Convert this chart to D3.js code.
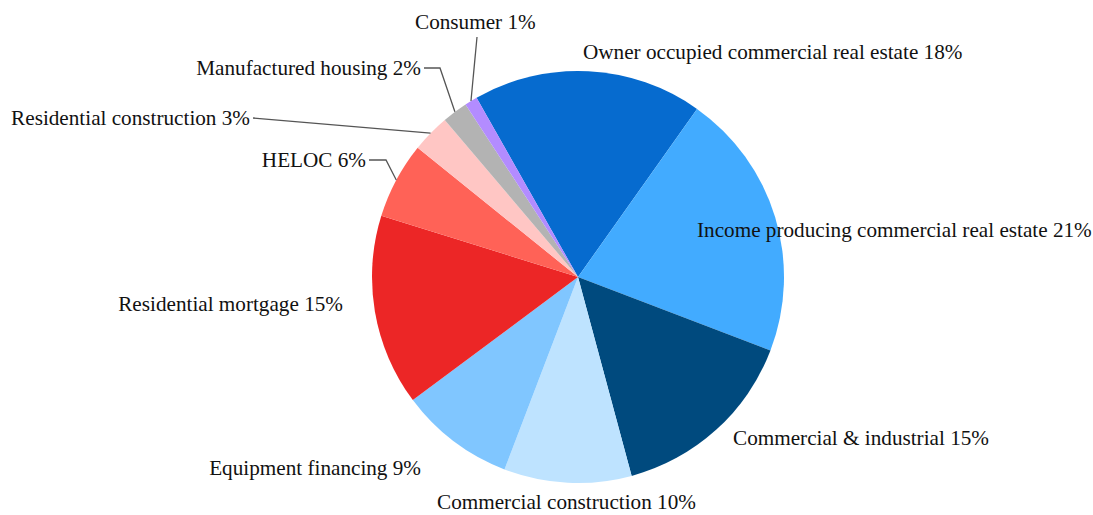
<!DOCTYPE html>
<html>
<head>
<meta charset="utf-8">
<script src="https://d3js.org/d3.v7.min.js"></script>
<style>
  body { margin: 0; background: #fff; }
  text { font-family: "Liberation Serif", "Times New Roman", serif; font-size: 21.2px; fill: #111; }
</style>
</head>
<body>
<script>

// loan portfolio shares, clockwise from "Owner occupied"
var categories = ["Owner occupied commercial real estate", "Income producing commercial real estate",
    "Commercial & industrial", "Commercial construction", "Equipment financing",
    "Residential mortgage", "HELOC", "Residential construction", "Manufactured housing", "Consumer"];
var shares = [18, 21, 15, 10, 9, 15, 6, 3, 2, 1];
var colors = ["#066bcf", "#42abff", "#004a7e", "#bee3ff", "#80c6ff",
    "#ec2626", "#ff6257", "#ffc6c4", "#b3b3b3", "#b38cff"];

var width = 1093, height = 515;
var cx = 578, cy = 277, radius = 206;
var startAngle = -29.5 * Math.PI / 180;

// label layout (text anchor point, anchor side, optional elbow for leader line)
var labelLayout = [
    {x: 583, y: 59, anchor: "start"},
    {x: 697, y: 237, anchor: "start"},
    {x: 733, y: 445, anchor: "start"},
    {x: 437, y: 509, anchor: "start"},
    {x: 421, y: 475, anchor: "end"},
    {x: 343, y: 311, anchor: "end"},
    {x: 366, y: 167, anchor: "end", line: true, elbow: [386, 160]},
    {x: 250, y: 125, anchor: "end", line: true, elbow: null},
    {x: 421, y: 75, anchor: "end", line: true, elbow: [440, 68]},
    {x: 415, y: 29, anchor: "start", line: true, lineStart: [477, 37]}
];

var data = categories.map(function(c, i) {
    return {name: c, value: shares[i], color: colors[i], layout: labelLayout[i]};
});

var svg = d3.select("body").append("svg")
    .attr("width", width)
    .attr("height", height);

var pie = d3.pie()
    .sort(null)
    .value(function(d) { return d.value; })
    .startAngle(startAngle)
    .endAngle(startAngle + 2 * Math.PI);

var arc = d3.arc().innerRadius(0).outerRadius(radius);
var edge = d3.arc().innerRadius(radius).outerRadius(radius);

var arcs = pie(data);

var g = svg.append("g").attr("transform", "translate(" + cx + "," + cy + ")");

g.selectAll("path.slice")
    .data(arcs)
    .enter().append("path")
      .attr("class", "slice")
      .attr("d", arc)
      .attr("fill", function(d) { return d.data.color; });

// leader lines
arcs.forEach(function(d) {
    var L = d.data.layout;
    if (!L.line) return;
    var p = edge.centroid(d);
    var end = [p[0] + cx, p[1] + cy];
    var pts;
    if (L.lineStart) {
        pts = [L.lineStart, end];
    } else {
        var sy = L.y - 7;
        var start = [L.x + 3, sy];
        pts = L.elbow ? [start, [L.elbow[0], sy], end] : [start, end];
    }
    svg.append("path")
        .attr("d", d3.line()(pts))
        .attr("fill", "none")
        .attr("stroke", "#555")
        .attr("stroke-width", 1.3);
});

svg.selectAll("text.label")
    .data(arcs)
    .enter().append("text")
      .attr("class", "label")
      .attr("x", function(d) { return d.data.layout.x; })
      .attr("y", function(d) { return d.data.layout.y; })
      .attr("text-anchor", function(d) { return d.data.layout.anchor; })
      .text(function(d) { return d.data.name + " " + d.data.value + "%"; });

</script>
</body>
</html>
